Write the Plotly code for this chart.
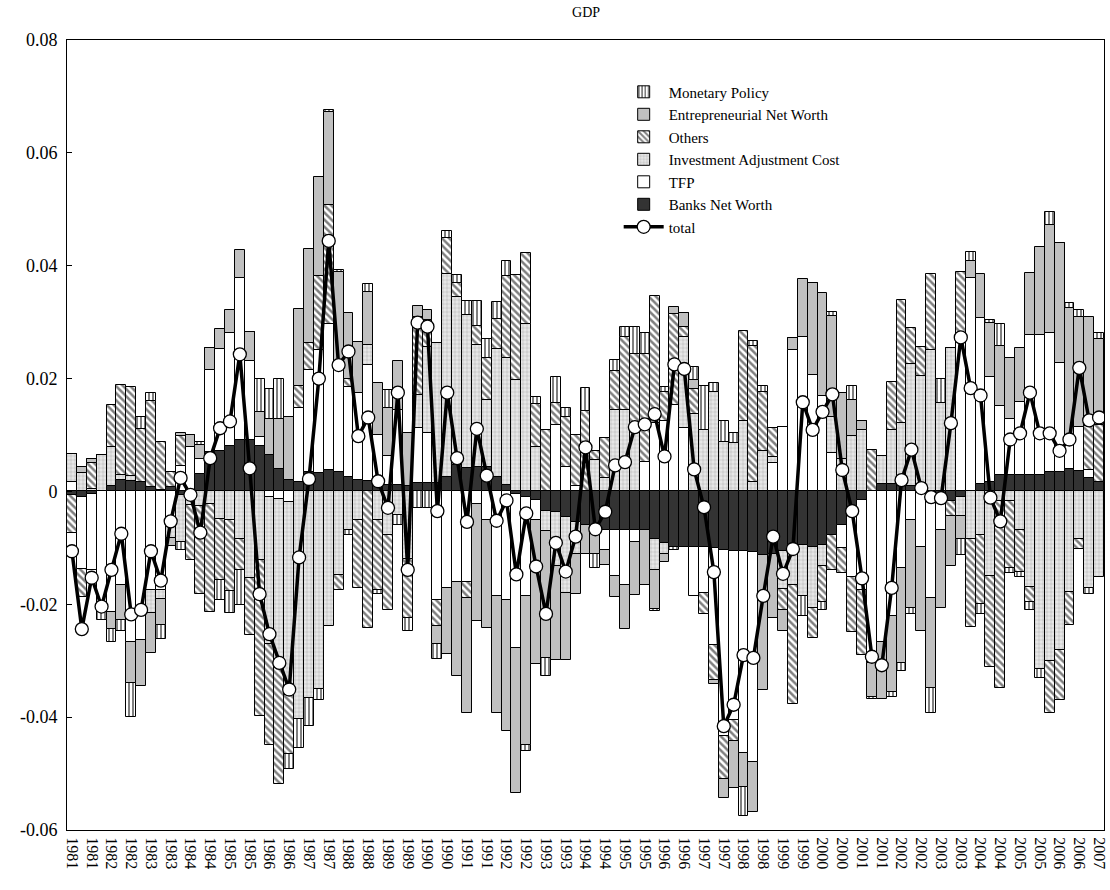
import plotly.graph_objects as go

# ---------------- data ----------------
x_labels = ["1981", "1981", "1982", "1982", "1983", "1983", "1984", "1984", "1985", "1985",
            "1986", "1986", "1987", "1987", "1988", "1988", "1989", "1989", "1990", "1990",
            "1991", "1991", "1992", "1992", "1993", "1993", "1994", "1994", "1995", "1995",
            "1996", "1996", "1997", "1997", "1998", "1998", "1999", "1999", "2000", "2000",
            "2001", "2001", "2002", "2002", "2003", "2003", "2004", "2004", "2005", "2005",
            "2006", "2006", "2007"]

y_ticks = [-0.06, -0.04, -0.02, 0, 0.02, 0.04, 0.06, 0.08]
y_tick_labels = ["-0.06", "-0.04", "-0.02", "0", "0.02", "0.04", "0.06", "0.08"]

banks = [-.0007, -.001, -.0005, 0, .001, .002, .0018, .0016, .0008, .0002,
         .0007, -.0007, -.0004, .0031, .0069, .0072, .0081, .0092, .0092, .0081,
         .0064, .004, .002, .0016, .0034, .0032, .0038, .0035, .0026, .0021,
         .0018, .0015, .0012, .0012, .001, .0015, .0015, .0015, .0026, .0047,
         .0041, .0044, .0044, .0026, .0012, -.0005, -.001, -.0015, -.0035, -.0036,
         -.0045, -.0054, -.006, -.0069, -.0069, -.0069, -.0069, -.0069, -.0069, -.0084,
         -.0092, -.0098, -.0098, -.0098, -.0098, -.0101, -.0104, -.0105, -.0105, -.0108,
         -.0112, -.011, -.0105, -.0098, -.0095, -.0098, -.0095, -.0078, -.006, -.004,
         -.0015, 0, .0014, .0014, .0014, .001, .001, 0, -.0017, -.0017,
         -.001, 0, .0014, .0017, .003, .003, .003, .003, .003, .0034,
         .0034, .0039, .0037, .0024, .0017]

tfp = [.0016, -.0127, -.0135, -.021, -.0213, -.0166, -.0266, -.0263, -.0175, -.0175,
       -.0062, .0045, .0078, .0026, .0147, .018, .02, .0286, .0139, .0015,
       -.001, -.0013, -.0019, .0132, .0182, .0218, .0259, .0195, .0159, .0153,
       .0206, .0085, .005, .0132, 0, .0097, .0088, -.0192, -.0172, -.016,
       -.016, -.0022, -.0051, -.0186, -.0192, -.0272, -.0175, -.0035, 0, .0118,
       .0044, .001, 0, 0, -.0035, -.008, -.0096, -.0021, .0053, .0121,
       .0124, .0153, .0112, -.0088, -.0082, -.0171, -.0329, -.030, -.0358, -.0372,
       0, .0051, .0115, .025, .0274, .0206, .0169, .0068, -.0041, -.0111,
       -.0159, -.0304, -.0267, -.022, -.0135, -.0051, -.0098, -.0189, -.0051, 0,
       .0277, .0379, .0294, .0186, .0122, .0098, .0128, .0247, .0247, .0247,
       .0193, .005, .0078, .0014, 0]

inv_adj = [.005, .0033, .0005, .0064, .0068, .0009, .0009, 0, -.0041, -.0015,
           -.002, -.0082, -.002, -.0025, -.0022, -.0048, -.0051, -.0084, -.0154, -.0122,
           -.026, -.0291, -.0341, -.0404, -.0366, -.0351, -.0239, -.0148, -.0069, -.0051,
           .0035, -.0051, -.0078, -.0042, -.0119, .0059, .0153, .0248, .036, .0297,
           .0271, .0215, .0118, .0226, .0224, .0197, .0297, .0079, -.0035, -.0097,
           -.0135, -.0056, 0, .0056, .0024, .0145, .0145, .0109, 0, -.0056,
           -.0018, 0, .0162, .0138, .0109, .0176, .0088, .0085, .0125, .0017,
           .0071, .001, -.0068, -.0068, -.0091, -.0108, -.0037, .0064, .0057, .0098,
           .0108, 0, .0049, .0095, .0108, .0216, .0195, .025, .0156, .0255,
           -.0034, -.0085, -.0078, -.0149, -.0017, -.0017, -.0068, -.0169, -.0314, -.0301,
           -.0281, -.0179, -.0085, -.0172, -.0152]

others = [-.0066, -.005, .0045, 0, .0075, .0159, .0158, .0094, .0153, .0086,
          .0028, .0053, -.0097, -.0156, -.0191, -.0109, -.0126, -.0056, -.01, -.0276,
          -.018, -.0215, -.0106, .0038, .0047, .0132, .0211, -.0027, .0015, -.012,
          -.0242, -.0124, -.0132, 0, -.0106, .0138, .0047, -.0047, .0064, .0026,
          -.0029, .0035, .0074, .0053, .0145, .0187, .0126, .0076, .0109, .0038,
          .0088, .009, .0143, .0015, .007, .0069, .0128, .0135, .0191, .0225,
          .0053, .0161, .0018, .0044, -.0038, -.0062, -.0076, -.0037, .0159, .024,
          .0105, .0051, -.0037, -.021, 0, -.0054, -.0064, -.0061, -.0044, -.0098,
          -.0115, .0074, 0, .0085, .0218, .0064, .0051, .0135, 0, -.0027,
          .0112, -.0156, -.0122, -.0162, -.0331, -.0118, -.0074, -.0027, 0, -.0091,
          -.0088, -.0058, -.0017, .0078, .0101]

entrepreneurial = [0, .001, .0008, 0, -.003, -.0062, -.0074, -.0082, -.007, -.0047,
                   -.0015, .0006, .0022, .0026, .0038, .0036, .004, .0049, .0051, .0044,
                   .0065, .0089, .0112, .0138, .0166, .0175, .0164, .0158, .0116, .0091,
                   .0094, .0093, .0085, .0087, .0094, .0019, .0019, -.0032, -.0116, -.0167,
                   -.0203, -.0207, -.0191, -.0206, -.0232, -.0258, -.0265, -.0255, -.0225, -.0165,
                   -.0118, -.0071, -.005, -.0041, -.0026, -.0038, -.0078, -.0094, -.0096, -.0068,
                   -.0015, .0012, .0024, .0015, 0, -.0008, -.0035, -.0083, -.0061, -.0088,
                   -.024, -.0115, -.0037, .0022, .0103, .0164, .0183, .0179, .0118, .0064,
                   .0017, -.0061, -.0101, -.0135, -.0169, -.0156, -.0149, -.0159, -.0139, -.0088,
                   -.0041, .003, .0078, .0095, .0105, .0108, .0096, .011, .0156, .0191,
                   .0213, .0236, .0194, .0193, .0152]

monetary = [0, 0, 0, -.0018, -.0024, -.002, -.0059, .0022, .0013, -.0024,
            0, -.0015, 0, .0004, 0, -.0035, -.0038, -.0062, 0, .006,
            .0053, .0071, -.0026, -.005, -.005, -.0018, .0004, .0004, -.0009, 0,
            .0015, -.0006, .0032, -.0018, -.0023, -.003, -.003, -.0026, .0012, .0014,
            .0025, .0043, .0035, .0031, .0027, 0, -.001, .0012, -.0032, .0047,
            .0016, 0, .0041, -.0026, 0, .0019, .0018, .0048, .0036, -.0004,
            .0008, -.0006, 0, .0024, .0077, .0016, .0037, .0018, -.0051, .001,
            .0011, 0, 0, 0, -.0034, 0, -.0014, .0007, 0, .0024,
            0, -.0003, 0, -.001, -.0014, -.001, 0, -.0044, .0043, 0,
            -.0027, .0015, -.0017, .0005, .0039, -.001, -.001, -.0014, -.0017, .0024,
            0, .0009, .0012, -.001, .001]

total = [-.0106, -.0244, -.0153, -.0204, -.0139, -.0075, -.0218, -.021, -.0106, -.0158,
         -.0053, .0024, -.0006, -.0073, .0059, .0112, .0124, .0243, .0041, -.0182,
         -.0253, -.0304, -.0351, -.0117, .0022, .02, .0444, .0224, .0248, .0098,
         .0131, .0018, -.0029, .0175, -.0139, .0299, .0292, -.0035, .0175, .0059,
         -.0054, .0111, .0028, -.0052, -.0016, -.0147, -.0039, -.0133, -.0217, -.0091,
         -.0142, -.008, .0078, -.0067, -.0036, .0046, .0052, .0114, .0119, .0137,
         .0062, .0225, .0217, .0039, -.0028, -.0143, -.0416, -.0378, -.029, -.0295,
         -.0185, -.008, -.0146, -.0102, .0158, .0109, .0141, .0172, .0038, -.0035,
         -.0154, -.0293, -.0308, -.0171, .002, .0074, .0006, -.001, -.0012, .0121,
         .0273, .0183, .017, -.0011, -.0053, .0092, .0103, .0175, .0103, .0103,
         .0072, .0092, .0219, .0126, .0131]

# ---------------- figure ----------------
n = len(total)
xpos = list(range(n))
font_family = "Times New Roman, Liberation Serif, DejaVu Serif, serif"

series = [
    # name, values, color, pattern, legend rank
    ("Banks Net Worth", banks, "#333333", None, 6),
    ("TFP", tfp, "#ffffff", None, 5),
    ("Investment Adjustment Cost", inv_adj, "#dadada",
     dict(shape=".", fgcolor="#ffffff", bgcolor="#cdcdcd", size=4, solidity=0.55), 4),
    ("Others", others, "#ffffff",
     dict(shape="\\", fgcolor="#000000", bgcolor="#ffffff", size=5, solidity=0.5), 3),
    ("Entrepreneurial Net Worth", entrepreneurial, "#c0c0c0", None, 2),
    ("Monetary Policy", monetary, "#ffffff",
     dict(shape="|", fgcolor="#000000", bgcolor="#ffffff", size=4, solidity=0.5), 1),
]

fig = go.Figure()
for name, vals, color, pattern, rank in series:
    marker = dict(color=color, line=dict(color="#000000", width=1))
    if pattern is not None:
        marker["pattern"] = pattern
    fig.add_trace(go.Bar(x=xpos, y=vals, name=name, width=1.0, marker=marker,
                         legendrank=rank))

fig.add_trace(go.Scatter(
    x=xpos, y=total, name="total", mode="lines+markers",
    line=dict(color="#000000", width=3.5),
    marker=dict(symbol="circle", size=13, color="#ffffff",
                line=dict(color="#000000", width=1.3)),
    legendrank=7))

fig.update_layout(
    width=1110, height=890,
    barmode="relative", bargap=0,
    paper_bgcolor="white", plot_bgcolor="white",
    font=dict(family=font_family, color="#000000", size=16),
    margin=dict(l=67, r=6, t=40, b=60, autoexpand=False),
    title=dict(text="GDP", x=0.528, xanchor="center", y=0.9865, yanchor="middle",
               font=dict(family=font_family, size=14, color="#000000")),
    showlegend=True,
    legend=dict(x=0.532, y=0.955, xanchor="left", yanchor="top",
                bgcolor="rgba(0,0,0,0)", borderwidth=0,
                font=dict(family=font_family, size=15, color="#000000"),
                traceorder="normal", itemwidth=40, tracegroupgap=0),
)

fig.update_xaxes(
    range=[-0.5, n - 0.5], automargin=False, ticklabeloverflow="allow",
    tickmode="array", tickvals=xpos[::2], ticktext=x_labels,
    tickangle=90, ticks="", ticklabelstandoff=3, showgrid=False, zeroline=False,
    showline=True, linecolor="#000000", linewidth=1, mirror=True,
    tickfont=dict(family=font_family, size=16, color="#000000"),
)
fig.update_yaxes(
    range=[-0.06, 0.08], automargin=False,
    tickmode="array", tickvals=y_ticks, ticktext=y_tick_labels,
    ticks="inside", ticklen=5, tickcolor="#000000", ticklabelstandoff=5,
    showgrid=False, zeroline=False,
    showline=True, linecolor="#000000", linewidth=1, mirror=True,
    tickfont=dict(family=font_family, size=18, color="#000000"),
)

fig.write_html("out.html", config={"displayModeBar": False})

# remove the browser's default page margin so the figure sits at (0, 0)
with open("out.html", "r", encoding="utf-8") as fh:
    page = fh.read()
page = page.replace("<head>", "<head><style>html,body{margin:0;padding:0;overflow:hidden;}</style>", 1)
with open("out.html", "w", encoding="utf-8") as fh:
    fh.write(page)
